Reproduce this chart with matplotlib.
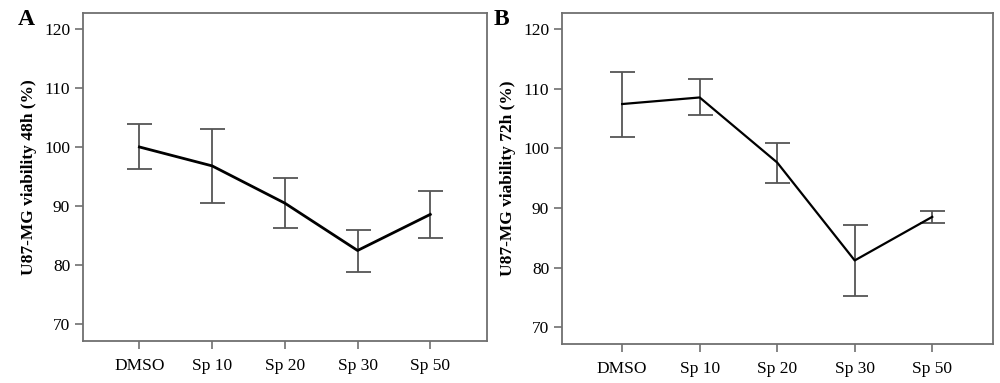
import numpy as np
import matplotlib
matplotlib.use("Agg")
import matplotlib.pyplot as plt

# group labels
groups = ["DMSO", "Sp 10", "Sp 20", "Sp 30", "Sp 50"]

# panel A: 48h viability (%), mean with error bar limits
mean_48 = [100.0, 96.8, 90.5, 82.5, 88.6]
upper_48 = [103.8, 103.0, 94.7, 86.0, 92.6]
lower_48 = [96.2, 90.6, 86.3, 78.8, 84.6]

# panel B: 72h viability (%)
mean_72 = [107.4, 108.5, 97.6, 81.2, 88.5]
upper_72 = [112.8, 111.6, 100.9, 87.1, 89.5]
lower_72 = [101.9, 105.5, 94.2, 75.3, 87.5]

yticks = [70, 80, 90, 100, 110, 120]

plt.rcParams['font.family'] = ['Liberation Serif', 'DejaVu Serif']

fig = plt.figure(figsize=(10, 3.83), dpi=100)
axA = fig.add_axes([0.0827, 0.1097, 0.4043, 0.8556])
axB = fig.add_axes([0.5617, 0.1018, 0.4310, 0.8635])

frame_col = "#6f6f6f"
err_col = "#555555"


def draw_panel(ax, mean, upper, lower, ylabel, lw):
    x = np.arange(len(groups))
    mean = np.array(mean)
    yerr = [mean - np.array(lower), np.array(upper) - mean]
    ax.errorbar(x, mean, yerr=yerr, fmt="none", ecolor=err_col,
                elinewidth=1.3, capsize=9, capthick=1.3, zorder=2)
    ax.plot(x, mean, color="black", lw=lw, zorder=3)
    ax.set_xlim(-0.78, 4.78)
    ax.set_ylim(67.2, 122.6)
    ax.set_xticks(x)
    ax.set_xticklabels(groups, fontsize=12.5)
    ax.set_yticks(yticks)
    ax.set_yticklabels([str(t) for t in yticks], fontsize=12.5)
    ax.tick_params(direction="out", length=6, width=1.2, color=frame_col, pad=3)
    ax.tick_params(axis="x", pad=6)
    for sp in ax.spines.values():
        sp.set_color(frame_col)
        sp.set_linewidth(1.3)
    ax.set_ylabel(ylabel, fontsize=12.5, fontweight="bold", labelpad=5)


draw_panel(axA, mean_48, upper_48, lower_48, "U87-MG viability 48h (%)", 2.0)
draw_panel(axB, mean_72, upper_72, lower_72, "U87-MG viability 72h (%)", 1.6)

fig.text(0.018, 0.95, "A", fontsize=17, fontweight="bold", va="center")
fig.text(0.494, 0.95, "B", fontsize=17, fontweight="bold", va="center")

fig.savefig("out.png", dpi=100)
